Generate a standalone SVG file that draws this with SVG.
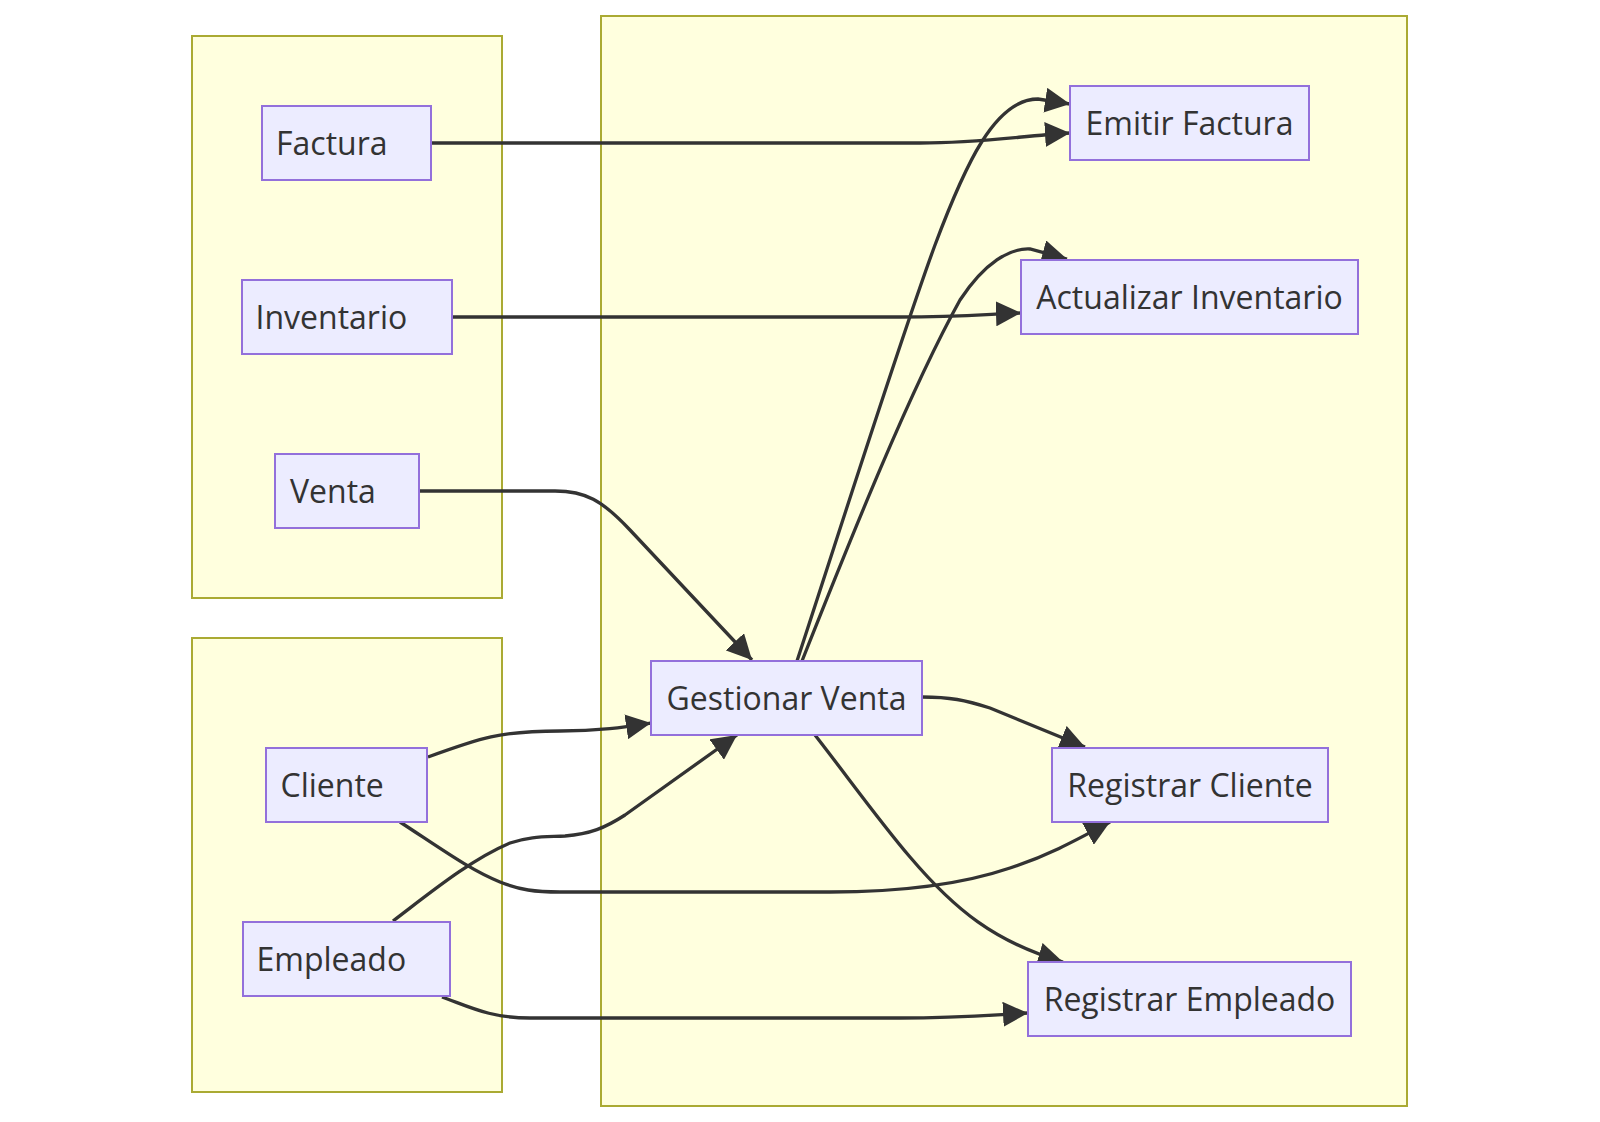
<svg xmlns="http://www.w3.org/2000/svg" width="1600" height="1122" viewBox="0 0 1600 1122">
<style>
.cluster{fill:#ffffde;stroke:#aaaa33;stroke-width:2}
.node rect{fill:#ececff;stroke:#9370db;stroke-width:2}
.node text{font-family:"Open Sans","Noto Sans","Liberation Sans",sans-serif;font-size:32px;fill:#333333}
.node text.c{text-anchor:middle}
.edge{fill:none;stroke:#333333;stroke-width:3.3;marker-end:url(#arrow)}
</style>
<defs>
<marker id="arrow" viewBox="0 0 10 10" refX="10" refY="5" markerUnits="userSpaceOnUse" markerWidth="25" markerHeight="25" orient="auto">
<path d="M0,0 L10,5 L0,10 z" fill="#333333"/>
</marker>
</defs>
<rect width="1600" height="1122" fill="#ffffff"/>
<g id="clusters">
<rect id="cluster-entidades" class="cluster" x="192" y="36" width="310" height="562"/>
<rect id="cluster-actores" class="cluster" x="192" y="638" width="310" height="454"/>
<rect id="cluster-procesos" class="cluster" x="601" y="16" width="806" height="1090"/>
</g>
<g id="connectors">
<path class="edge" d="M431,143 L920,143 C980,143 1020,136 1070,133"/>
<path class="edge" d="M452,317 L900,317 C960,317 990,314 1021,313"/>
<path class="edge" d="M419,491 L555,491 C585,491 602,500 630,530 L752,660"/>
<path class="edge" d="M797,661 C840,530 900,340 935,245 C965,165 995,99 1038,99 L1070,104"/>
<path class="edge" d="M802,661 C850,540 910,390 960,300 C985,262 1010,248 1030,249 L1067,259"/>
<path class="edge" d="M922,697 C950,697 965,700 990,708 L1085,747"/>
<path class="edge" d="M815,735 C850,780 880,822 910,857 C955,910 995,942 1063,962"/>
<path class="edge" d="M428,757 C480,738 500,731 560,731 C600,731 625,727 651,723"/>
<path class="edge" d="M400,822 C440,848 470,870 500,882 C520,890 535,892 560,892 L830,892 C900,892 960,885 1010,868 C1050,855 1080,838 1110,822"/>
<path class="edge" d="M393,921 C430,893 470,860 510,843 C530,836 545,837 565,836 C590,834 605,828 625,815 L737,735"/>
<path class="edge" d="M442,997 C470,1007 490,1018 530,1018 L900,1018 C960,1018 990,1015 1028,1013"/>
</g>
<g id="node-factura" class="node"><rect x="262" y="106" width="169" height="74"/><text x="276" y="154.5">Factura</text></g>
<g id="node-inventario" class="node"><rect x="242" y="280" width="210" height="74"/><text x="255.5" y="328.5">Inventario</text></g>
<g id="node-venta" class="node"><rect x="275" y="454" width="144" height="74"/><text x="290" y="502.5">Venta</text></g>
<g id="node-cliente" class="node"><rect x="266" y="748" width="161" height="74"/><text x="280.5" y="796.5">Cliente</text></g>
<g id="node-empleado" class="node"><rect x="243" y="922" width="207" height="74"/><text x="256.5" y="970.5">Empleado</text></g>
<g id="node-gestionar-venta" class="node"><rect x="651" y="661" width="271" height="74"/><text class="c" x="786.5" y="709.5">Gestionar Venta</text></g>
<g id="node-emitir-factura" class="node"><rect x="1070" y="86" width="239" height="74"/><text class="c" x="1189.5" y="134.5">Emitir Factura</text></g>
<g id="node-actualizar-inventario" class="node"><rect x="1021" y="260" width="337" height="74"/><text class="c" x="1189.5" y="308.5">Actualizar Inventario</text></g>
<g id="node-registrar-cliente" class="node"><rect x="1052" y="748" width="276" height="74"/><text class="c" x="1190" y="796.5">Registrar Cliente</text></g>
<g id="node-registrar-empleado" class="node"><rect x="1028" y="962" width="323" height="74"/><text class="c" x="1189.5" y="1010.5">Registrar Empleado</text></g>
</svg>
